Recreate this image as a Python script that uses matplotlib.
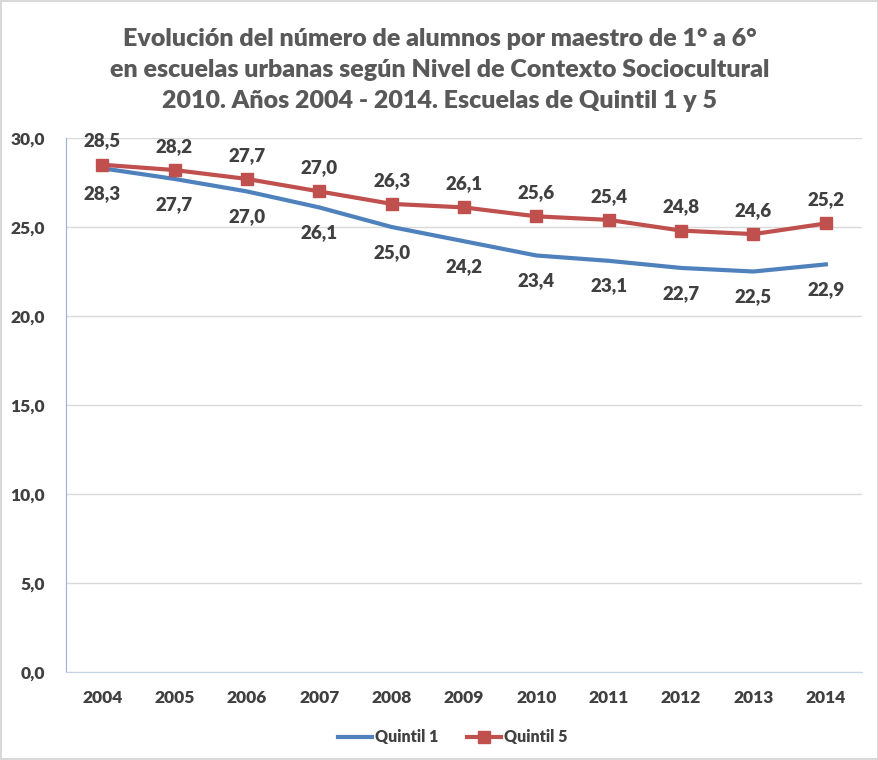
import matplotlib.pyplot as plt

plt.rcParams['font.family'] = ['Lato', 'DejaVu Sans']

years = ['2004', '2005', '2006', '2007', '2008', '2009', '2010', '2011', '2012', '2013', '2014']
quintil1 = [28.3, 27.7, 27.0, 26.1, 25.0, 24.2, 23.4, 23.1, 22.7, 22.5, 22.9]
quintil5 = [28.5, 28.2, 27.7, 27.0, 26.3, 26.1, 25.6, 25.4, 24.8, 24.6, 25.2]

blue = '#4F81BD'
red = '#C0504D'
txt = '#404040'
w = 'heavy'

fig = plt.figure(figsize=(8.79, 7.6), dpi=100)
fig.patch.set_edgecolor('#D9D9D9')
fig.patch.set_linewidth(1.5)
ax = fig.add_axes([0.0751, 0.1158, 0.9056, 0.7026])

x = list(range(len(years)))
ax.plot(x, quintil1, color=blue, lw=3, label='Quintil 1', zorder=3)
ax.plot(x, quintil5, color=red, lw=3, marker='s', ms=8, label='Quintil 5', zorder=4)

for i in x:
    ax.annotate(f'{quintil5[i]:.1f}'.replace('.', ','), (i, quintil5[i]), xytext=(0, 11),
                textcoords='offset points', ha='center', va='bottom',
                fontsize=13.5, fontweight=w, color=txt)
    ax.annotate(f'{quintil1[i]:.1f}'.replace('.', ','), (i, quintil1[i]), xytext=(0, -12),
                textcoords='offset points', ha='center', va='top',
                fontsize=13.5, fontweight=w, color=txt)

ax.set_xlim(-0.5, len(years) - 0.5)
ax.set_ylim(0, 30)
ax.set_yticks([0, 5, 10, 15, 20, 25, 30])
ax.set_yticklabels([f'{v:.1f}'.replace('.', ',') for v in [0, 5, 10, 15, 20, 25, 30]])
ax.set_xticks(x)
ax.set_xticklabels(years)
ax.tick_params(length=0, labelsize=12.5, labelcolor=txt, pad=13)
for lab in ax.get_xticklabels() + ax.get_yticklabels():
    lab.set_fontweight(w)
ax.tick_params(axis='y', pad=15)
ax.yaxis.grid(True, color='#D9D9D9', lw=1)
ax.set_axisbelow(True)
for s in ['top', 'right']:
    ax.spines[s].set_visible(False)
ax.spines['left'].set_color('#95B3D7')
ax.spines['bottom'].set_color('#C6D3E6')

fig.text(0.5, 0.908, 'Evolución del número de alumnos por maestro de 1° a 6°\n'
         'en escuelas urbanas según Nivel de Contexto Sociocultural\n'
         '2010. Años 2004 - 2014. Escuelas de Quintil 1 y 5',
         ha='center', va='center', fontsize=18, fontweight=w, color='#595959',
         linespacing=1.5)

fig.legend(loc='center', bbox_to_anchor=(0.515, 0.03), ncol=2, frameon=False,
           prop={'weight': w, 'size': 11.5}, labelcolor=txt, handlelength=2.1,
           columnspacing=1.8, handletextpad=0.2)

fig.savefig('out.png', dpi=100)
